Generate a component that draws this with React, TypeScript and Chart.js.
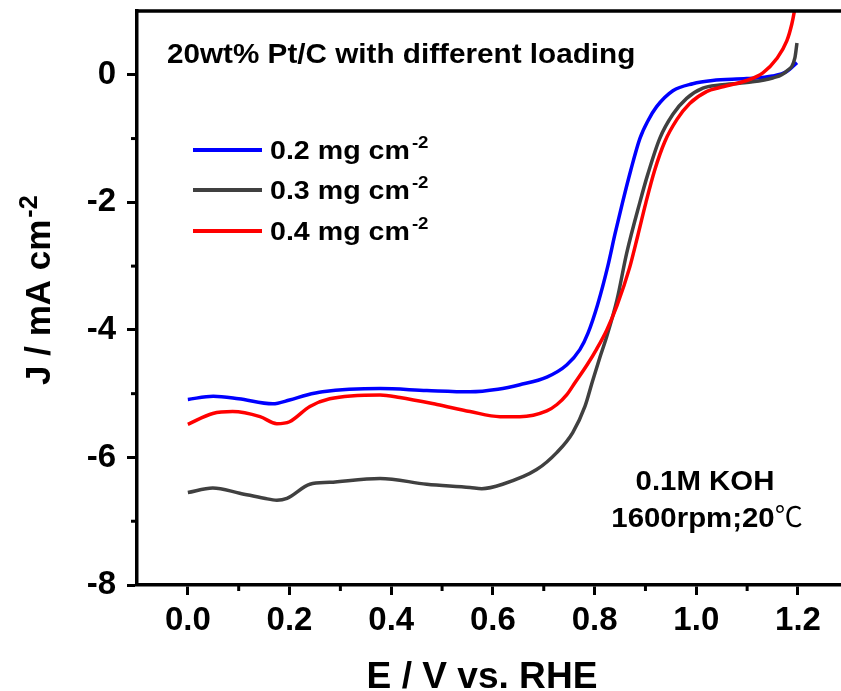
import React, { useEffect, useRef } from 'react';
import { Chart, registerables } from 'chart.js';

Chart.register(...registerables);

// ---- data (E in V vs RHE, J in mA cm^-2) ----
const blueE = [0.0, 0.05, 0.1, 0.167, 0.2, 0.234, 0.265, 0.378, 0.47, 0.555, 0.61, 0.653, 0.706, 0.745, 0.771, 0.787, 0.806, 0.826, 0.84, 0.855, 0.871, 0.889, 0.905, 0.922, 0.954, 0.993, 1.032, 1.099, 1.15, 1.178, 1.198];
const blueJ = [-5.09, -5.04, -5.08, -5.16, -5.1, -5.02, -4.97, -4.92, -4.95, -4.97, -4.93, -4.86, -4.74, -4.55, -4.31, -4.05, -3.6, -3.0, -2.5, -2.0, -1.5, -1.0, -0.72, -0.5, -0.25, -0.14, -0.09, -0.06, -0.02, 0.05, 0.19];

const grayE = [0.0, 0.049, 0.102, 0.15, 0.175, 0.195, 0.24, 0.279, 0.378, 0.47, 0.555, 0.578, 0.619, 0.686, 0.726, 0.757, 0.781, 0.796, 0.81, 0.824, 0.844, 0.863, 0.889, 0.905, 0.928, 0.954, 0.981, 1.013, 1.046, 1.099, 1.15, 1.178, 1.194, 1.198];
const grayJ = [-6.55, -6.48, -6.56, -6.64, -6.67, -6.64, -6.42, -6.39, -6.33, -6.42, -6.47, -6.49, -6.42, -6.19, -5.92, -5.61, -5.2, -4.8, -4.44, -4.1, -3.53, -2.8, -2.0, -1.55, -1.0, -0.62, -0.37, -0.21, -0.16, -0.12, -0.05, 0.06, 0.27, 0.5];

const redE = [0.0, 0.049, 0.088, 0.142, 0.175, 0.2, 0.24, 0.279, 0.378, 0.417, 0.49, 0.555, 0.614, 0.653, 0.706, 0.726, 0.745, 0.762, 0.785, 0.804, 0.824, 0.844, 0.869, 0.885, 0.901, 0.918, 0.938, 0.962, 0.987, 1.021, 1.046, 1.099, 1.131, 1.158, 1.178, 1.188, 1.193, 1.196];
const redJ = [-5.48, -5.31, -5.28, -5.36, -5.47, -5.44, -5.2, -5.08, -5.02, -5.06, -5.17, -5.28, -5.36, -5.36, -5.27, -5.17, -5.02, -4.82, -4.55, -4.3, -4.0, -3.62, -3.02, -2.52, -2.0, -1.5, -1.05, -0.7, -0.45, -0.26, -0.2, -0.09, 0.03, 0.25, 0.53, 0.8, 1.0, 1.15];

const seriesLabels = ['0.2 mg cm', '0.3 mg cm', '0.4 mg cm'];
const seriesColors = ['#0000ff', '#404040', '#ff0000'];

const xTicks = [0.0, 0.2, 0.4, 0.6, 0.8, 1.0, 1.2];
const xMinorTicks = [0.1, 0.3, 0.5, 0.7, 0.9, 1.1];
const yTicks = [-8, -6, -4, -2, 0];
const yMinorTicks = [-7, -5, -3, -1];

const chartTitle = '20wt% Pt/C with different loading';
const xTitle = 'E / V vs. RHE';
const yTitle = 'J / mA cm';
const superText = '-2';
const noteLine1 = '0.1M KOH';
const noteLine2 = '1600rpm;20';
const noteUnit = '\u2103';

const FONT = '"Liberation Sans", Arial, Helvetica, sans-serif';
const CJK = '"Noto Sans CJK SC", "Noto Sans CJK JP", sans-serif';

function toPoints(xs: number[], ys: number[]) {
  return xs.map((x, i) => ({ x, y: ys[i] }));
}

function drawText(
  ctx: CanvasRenderingContext2D,
  text: string,
  x: number,
  y: number,
  size: number,
  align: 'left' | 'center' | 'right',
  sx: number,
  weight = 'bold',
  family = FONT
) {
  ctx.save();
  ctx.font = `${weight} ${size}px ${family}`;
  ctx.textBaseline = 'alphabetic';
  ctx.textAlign = 'left';
  ctx.fillStyle = '#000';
  const w = ctx.measureText(text).width * sx;
  const x0 = align === 'center' ? x - w / 2 : align === 'right' ? x - w : x;
  ctx.translate(x0, y);
  ctx.scale(sx, 1);
  ctx.fillText(text, 0, 0);
  ctx.restore();
  return w;
}

function measure(ctx: CanvasRenderingContext2D, text: string, size: number, sx: number, weight = 'bold', family = FONT) {
  ctx.save();
  ctx.font = `${weight} ${size}px ${family}`;
  const w = ctx.measureText(text).width * sx;
  ctx.restore();
  return w;
}

const decorPlugin = {
  id: 'decor',
  afterDraw(chart: any) {
    const { ctx, chartArea, scales } = chart;
    const xs = scales.x;
    const ys = scales.y;
    ctx.save();
    // top frame line
    ctx.strokeStyle = '#000';
    ctx.lineWidth = 3.5;
    ctx.beginPath();
    ctx.moveTo(chartArea.left - 1.5, chartArea.top);
    ctx.lineTo(chartArea.right + 2, chartArea.top);
    ctx.stroke();
    // minor ticks
    ctx.lineWidth = 3;
    xMinorTicks.forEach((v) => {
      const px = xs.getPixelForValue(v);
      ctx.beginPath();
      ctx.moveTo(px, chartArea.bottom);
      ctx.lineTo(px, chartArea.bottom + 6);
      ctx.stroke();
    });
    yMinorTicks.forEach((v) => {
      const py = ys.getPixelForValue(v);
      ctx.beginPath();
      ctx.moveTo(chartArea.left, py);
      ctx.lineTo(chartArea.left - 6, py);
      ctx.stroke();
    });
    ctx.restore();

    // chart title
    drawText(ctx, chartTitle, 167, 63, 28, 'left', 1.06);

    // legend
    const legendY = [150, 190, 231];
    seriesLabels.forEach((lab, i) => {
      ctx.save();
      ctx.strokeStyle = seriesColors[i];
      ctx.lineWidth = 4;
      ctx.beginPath();
      ctx.moveTo(193, legendY[i]);
      ctx.lineTo(262, legendY[i]);
      ctx.stroke();
      ctx.restore();
      const w = drawText(ctx, lab, 270, legendY[i] + 9, 26, 'left', 1.1);
      drawText(ctx, superText, 270 + w + 2, legendY[i] - 2, 17, 'left', 1.1);
    });

    // annotation
    drawText(ctx, noteLine1, 705, 490, 28, 'center', 1.05);
    const w1 = measure(ctx, noteLine2, 28, 1.05);
    const w2 = measure(ctx, noteUnit, 28, 1.0, 'normal', CJK);
    const start = 707 - (w1 + w2) / 2;
    drawText(ctx, noteLine2, start, 527, 28, 'left', 1.05);
    drawText(ctx, noteUnit, start + w1, 527, 28, 'left', 1.0, 'normal', CJK);

    // x axis title
    drawText(ctx, xTitle, 482, 688, 36, 'center', 1.03);

    // y axis title (rotated)
    ctx.save();
    ctx.translate(50, 385);
    ctx.rotate(-Math.PI / 2);
    const wy = drawText(ctx, yTitle, 0, 0, 35, 'left', 1.0);
    drawText(ctx, superText, wy + 2, -13, 25, 'left', 1.0);
    ctx.restore();
  },
};

export default function App() {
  const canvasRef = useRef<HTMLCanvasElement | null>(null);

  useEffect(() => {
    document.body.style.margin = '0';
    const canvas = canvasRef.current;
    if (!canvas) return;
    const tickFont = { family: FONT, size: 33, weight: 'bold' as const };
    const chart = new Chart(canvas, {
      type: 'line',
      data: {
        datasets: [
          {
            label: seriesLabels[0],
            data: toPoints(blueE, blueJ),
            borderColor: seriesColors[0],
            order: 3,
          },
          {
            label: seriesLabels[1],
            data: toPoints(grayE, grayJ),
            borderColor: seriesColors[1],
            order: 2,
          },
          {
            label: seriesLabels[2],
            data: toPoints(redE, redJ),
            borderColor: seriesColors[2],
            order: 1,
          },
        ].map((d) => ({
          ...d,
          borderWidth: 3.5,
          pointRadius: 0,
          fill: false,
          cubicInterpolationMode: 'monotone' as const,
        })),
      },
      options: {
        animation: false,
        responsive: false,
        maintainAspectRatio: false,
        devicePixelRatio: 1,
        layout: { padding: { top: 11, right: 0, left: 0, bottom: 0 } },
        plugins: {
          legend: { display: false },
          tooltip: { enabled: false },
          title: { display: false },
        },
        scales: {
          x: {
            type: 'linear',
            min: -0.1,
            max: 1.2846,
            afterBuildTicks: (axis: any) => {
              axis.ticks = xTicks.map((v) => ({ value: v }));
            },
            afterFit: (axis: any) => {
              axis.height = 106;
              axis.paddingLeft = 0;
              axis.paddingRight = 0;
              axis.paddingTop = 0;
              axis.paddingBottom = 0;
            },
            ticks: {
              font: tickFont,
              color: '#000',
              padding: 6,
              maxRotation: 0,
              autoSkip: false,
              callback: (v: any) => Number(v).toFixed(1),
            },
            grid: {
              display: true,
              drawOnChartArea: false,
              drawTicks: true,
              tickLength: 10,
              tickWidth: 3,
              tickColor: '#000',
            },
            border: { display: true, width: 3.5, color: '#000' },
          },
          y: {
            type: 'linear',
            min: -8,
            max: 1,
            afterBuildTicks: (axis: any) => {
              axis.ticks = yTicks.map((v) => ({ value: v }));
            },
            afterFit: (axis: any) => {
              axis.width = 137;
              axis.paddingLeft = 0;
              axis.paddingRight = 0;
              axis.paddingTop = 0;
              axis.paddingBottom = 0;
            },
            ticks: {
              font: tickFont,
              color: '#000',
              padding: 11,
              autoSkip: false,
              callback: (v: any) => String(Number(v)),
            },
            grid: {
              display: true,
              drawOnChartArea: false,
              drawTicks: true,
              tickLength: 10,
              tickWidth: 3,
              tickColor: '#000',
            },
            border: { display: true, width: 3.5, color: '#000' },
          },
        },
      },
      plugins: [decorPlugin],
    });
    return () => chart.destroy();
  }, []);

  return (
    <div style={{ position: 'absolute', left: 0, top: 0, width: 841, height: 691, background: '#fff' }}>
      <canvas ref={canvasRef} width={841} height={691} style={{ display: 'block' }} />
    </div>
  );
}
